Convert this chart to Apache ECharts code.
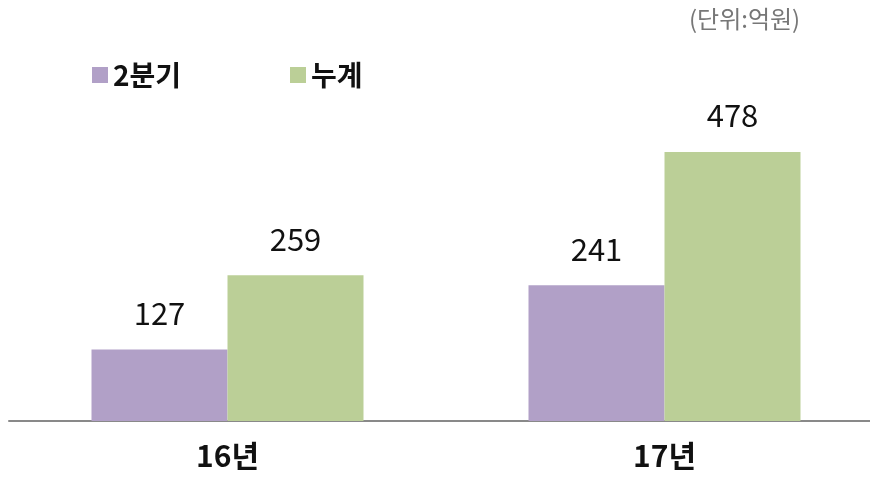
<!DOCTYPE html>
<html><head><meta charset="utf-8">
<script src="https://cdn.jsdelivr.net/npm/echarts@6/dist/echarts.min.js"></script>
<style>html,body{margin:0;padding:0;background:#fff;overflow:hidden}#c{width:884px;height:484px}</style>
</head><body><div id="c"></div>
<script>
const categories = ['16년', '17년'];
const quarterValues = [127, 241];
const cumulativeValues = [259, 478];
const seriesNames = ['2분기', '누계'];
const unitText = '(단위:억원)';

const FONT = "'Noto Sans CJK KR', 'Noto Sans', sans-serif";
const chart = echarts.init(document.getElementById('c'));
const labelStyle = {show: true, position: 'top', distance: 21, color: '#111', fontSize: 31, fontFamily: FONT};
chart.setOption({
  animation: false,
  textStyle: {fontFamily: FONT},
  title: {text: unitText, left: 684, top: 2, textStyle: {fontSize: 24, fontWeight: 'normal', color: '#777', fontFamily: FONT}},
  legend: [
    {data: [seriesNames[0]], left: 87, top: 56, itemWidth: 16, itemHeight: 16, itemGap: 6, icon: 'rect',
     textStyle: {fontSize: 28, fontWeight: 'bold', color: '#111', fontFamily: FONT}},
    {data: [seriesNames[1]], left: 285, top: 56, itemWidth: 16, itemHeight: 16, itemGap: 6, icon: 'rect',
     textStyle: {fontSize: 28, fontWeight: 'bold', color: '#111', fontFamily: FONT}}
  ],
  grid: {left: 9, width: 874, top: 152, bottom: 63},
  xAxis: {type: 'category', data: categories,
    axisLine: {lineStyle: {color: '#898989', width: 2}}, axisTick: {show: false},
    axisLabel: {fontSize: 30, fontWeight: 'bold', color: '#111', margin: 20, fontFamily: FONT}},
  yAxis: {type: 'value', min: 0, max: 478, show: false, splitLine: {show: false}},
  series: [
    {name: seriesNames[0], type: 'bar', data: quarterValues, barWidth: 136, barGap: '0%',
     itemStyle: {color: '#b1a0c7'}, label: labelStyle},
    {name: seriesNames[1], type: 'bar', data: cumulativeValues, barWidth: 136,
     itemStyle: {color: '#bbcf97'}, label: labelStyle}
  ]
});
</script></body></html>
